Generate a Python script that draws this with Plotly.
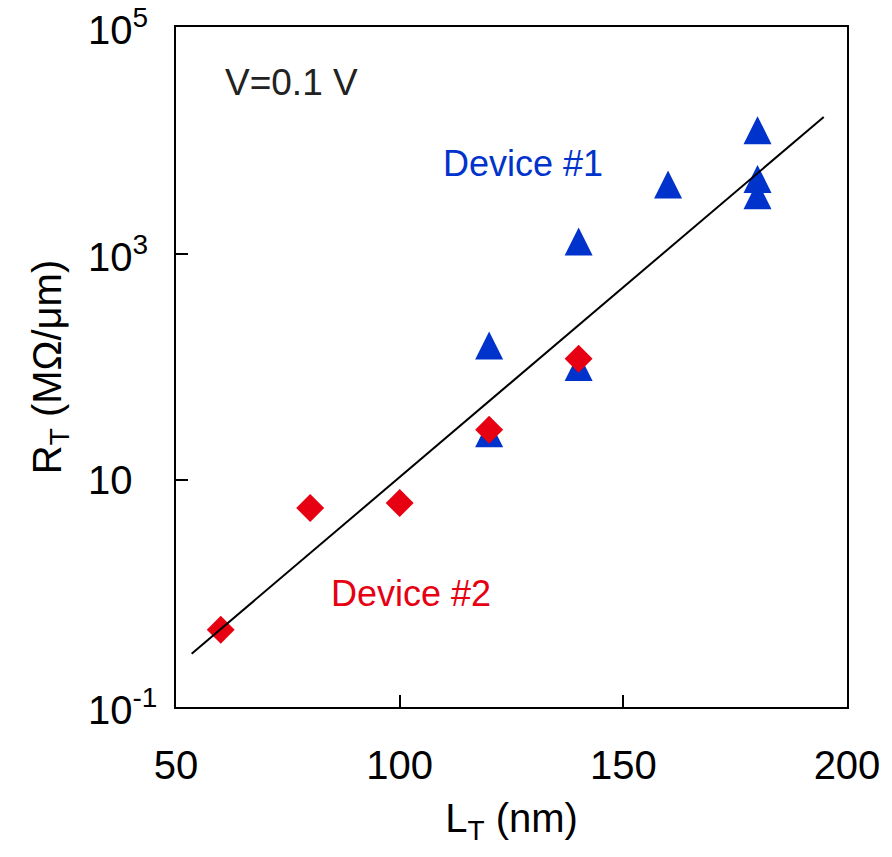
import math
import plotly.graph_objects as go

# Device #1 (blue triangles): transfer length vs. total resistance
dev1_L = [120, 120, 140, 140, 160, 180, 180, 180]
dev1_R = [155, 26, 1280, 100, 4070, 12300, 4570, 3280]

# Device #2 (red diamonds)
dev2_L = [60, 80, 100, 120, 140]
dev2_R = [0.48, 5.7, 6.3, 28, 118]

# exponential fit, end points
fit_L = [53.5, 194.8]
fit_R = [0.295, 16070]

y_tickvals = [0.1, 10, 1000, 100000]
y_ticktext = ["10<sup>-1</sup>", "10", "10<sup>3</sup>", "10<sup>5</sup>"]
x_tickvals = [50, 100, 150, 200]

BLUE = "#0033cc"
RED = "#e60012"
FONT = "Arial, Liberation Sans, sans-serif"

fig = go.Figure()

# upward triangles, centred on the point (width == height)
fig.add_trace(go.Scatter(
    x=dev1_L, y=dev1_R, mode="markers",
    marker=dict(symbol="arrow-down", angle=180, standoff=14, size=28,
                color=BLUE, line=dict(width=0)),
    showlegend=False, hoverinfo="x+y",
))
fig.add_trace(go.Scatter(
    x=dev2_L, y=dev2_R, mode="markers",
    marker=dict(symbol="diamond", size=21.5, color=RED, line=dict(width=0)),
    showlegend=False, hoverinfo="x+y",
))
fig.add_trace(go.Scatter(
    x=fit_L, y=fit_R, mode="lines",
    line=dict(color="black", width=2),
    showlegend=False, hoverinfo="skip",
))

annotations = []
# y tick labels, left aligned
for v, t in zip(y_tickvals, y_ticktext):
    annotations.append(dict(
        x=-0.134, xref="paper", xanchor="left",
        y=math.log10(v), yref="y", yanchor="middle",
        text=t, showarrow=False,
        font=dict(family=FONT, size=40, color="black"),
    ))

annotations += [
    dict(x=0.0707, xref="paper", xanchor="left", y=0.918, yref="paper",
         yanchor="middle", text="V=0.1 V", showarrow=False,
         font=dict(family=FONT, size=37, color="#222222")),
    dict(x=127.6, xref="x", xanchor="center", y=3.797, yref="y",
         yanchor="middle", text="Device #1", showarrow=False,
         font=dict(family=FONT, size=36, color=BLUE)),
    dict(x=102.6, xref="x", xanchor="center", y=0.0, yref="y",
         yanchor="middle", text="Device #2", showarrow=False,
         font=dict(family=FONT, size=36, color=RED)),
]

fig.update_layout(
    width=892, height=857,
    margin=dict(l=175.6, r=41.4, t=26.7, b=150.3, pad=0),
    paper_bgcolor="white", plot_bgcolor="white",
    font=dict(family=FONT, color="black"),
    annotations=annotations,
    xaxis=dict(
        range=[50, 200], tickvals=x_tickvals,
        showgrid=False, zeroline=False,
        showline=True, linecolor="black", linewidth=2, mirror=True,
        ticks="inside", ticklen=12, tickwidth=2, tickcolor="black",
        tickfont=dict(family=FONT, size=40, color="black"),
        ticklabelstandoff=22,
        title=dict(text="L<sub>T</sub> (nm)", standoff=18,
                   font=dict(family=FONT, size=40, color="black")),
    ),
    yaxis=dict(
        type="log", range=[-1, 5], tickvals=y_tickvals,
        showticklabels=False,
        showgrid=False, zeroline=False,
        showline=True, linecolor="black", linewidth=2, mirror=True,
        ticks="inside", ticklen=12, tickwidth=2, tickcolor="black",
        title=dict(text="R<sub>T</sub> (MΩ/μm)", standoff=100,
                   font=dict(family=FONT, size=40, color="black")),
    ),
)

fig.write_html("out.html")
